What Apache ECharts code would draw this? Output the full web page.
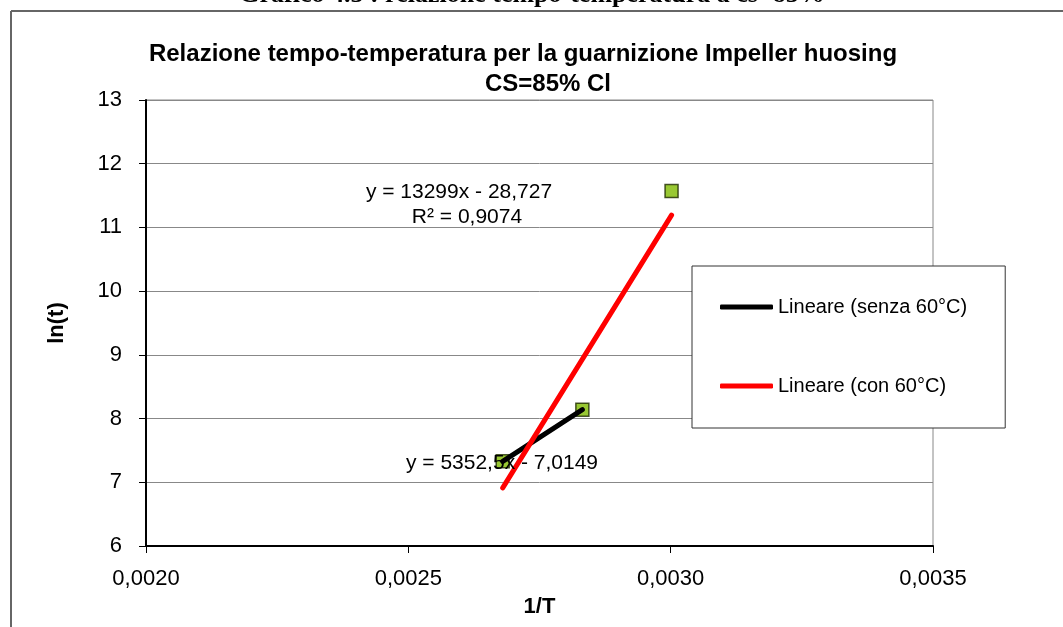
<!DOCTYPE html>
<html>
<head>
<meta charset="utf-8">
<title>Relazione tempo-temperatura</title>
<script src="https://cdn.jsdelivr.net/npm/echarts@6/dist/echarts.min.js"></script>
<style>
  html, body { margin: 0; padding: 0; background: #fff; }
  #chart { width: 1063px; height: 627px; }
</style>
</head>
<body>
<div id="chart"></div>
<script>
// dati: 1/T e ln(t)
var invT = [0.0026799, 0.0028317, 0.0030017];
var lnT = [7.33, 8.14, 11.57];
// rette di tendenza (pendenza, intercetta) e intervallo in x
var fitSenza = { slope: 5352.5, icpt: -7.0149, from: 0.0026799, to: 0.0028317 };
var fitCon = { slope: 13299, icpt: -28.727, from: 0.0026799, to: 0.0030017 };
var xTicks = [0.0020, 0.0025, 0.0030, 0.0035];
var yTicks = [6, 7, 8, 9, 10, 11, 12, 13];

var FONT = "'Liberation Sans', Arial, sans-serif";

function lineOf(f) {
  return [[f.from, f.slope * f.from + f.icpt], [f.to, f.slope * f.to + f.icpt]];
}
function comma(v) { return v.toFixed(4).replace('.', ','); }

var chart = echarts.init(document.getElementById('chart'));

chart.setOption({
  animation: false,
  backgroundColor: '#fff',
  grid: {
    left: 146, right: 130, top: 100, bottom: 81,
    show: true, borderColor: '#888', borderWidth: 1
  },
  legend: {
    data: [
      { name: 'Lineare (senza 60°C)', icon: 'roundRect' },
      { name: 'Lineare (con 60°C)', icon: 'roundRect' }
    ],
    orient: 'vertical',
    left: 692, top: 266,
    padding: [31, 38, 32, 28],
    itemWidth: 53, itemHeight: 5, itemGap: 59,
    backgroundColor: '#fff',
    borderColor: '#333', borderWidth: 1, borderRadius: 0,
    textStyle: { fontFamily: FONT, fontSize: 20, color: '#000', height: 20, lineHeight: 20 }
  },
  xAxis: {
    type: 'value',
    min: xTicks[0], max: xTicks[xTicks.length - 1], interval: 0.0005,
    name: '1/T', nameLocation: 'middle', nameGap: 50,
    nameTextStyle: { fontFamily: FONT, fontSize: 22, fontWeight: 'bold', color: '#000' },
    axisLine: { lineStyle: { color: '#000', width: 2 } },
    axisTick: { show: true, length: 7, lineStyle: { color: '#000' } },
    axisLabel: { fontFamily: FONT, fontSize: 22, color: '#000', margin: 22, formatter: comma },
    splitLine: { show: false }
  },
  yAxis: {
    type: 'value',
    min: yTicks[0], max: yTicks[yTicks.length - 1], interval: 1,
    name: 'ln(t)', nameLocation: 'middle', nameGap: 78, nameMoveOverlap: false,
    nameTextStyle: { fontFamily: FONT, fontSize: 22, fontWeight: 'bold', color: '#000' },
    axisLine: { show: true, lineStyle: { color: '#000', width: 2 } },
    axisTick: { show: true, length: 7, lineStyle: { color: '#000' } },
    axisLabel: { fontFamily: FONT, fontSize: 22, color: '#000', margin: 24 },
    splitLine: { lineStyle: { color: '#888', width: 1 } }
  },
  series: [
    {
      name: 'punti',
      type: 'scatter',
      data: invT.map(function (x, i) { return [x, lnT[i]]; }),
      symbol: 'rect',
      symbolSize: 13,
      itemStyle: { color: '#7fba00', borderColor: '#1e2a00', borderWidth: 1.5 },
      z: 2
    },
    {
      name: 'Lineare (senza 60°C)',
      type: 'line',
      data: lineOf(fitSenza),
      symbol: 'none',
      lineStyle: { color: '#000', width: 5, cap: 'round' },
      itemStyle: { color: '#000' },
      z: 3
    },
    {
      name: 'Lineare (con 60°C)',
      type: 'line',
      data: lineOf(fitCon),
      symbol: 'none',
      lineStyle: { color: '#ff0000', width: 5, cap: 'round' },
      itemStyle: { color: '#ff0000' },
      z: 3
    }
  ],
  graphic: [
    // cornice esterna
    { type: 'line', shape: { x1: 11, y1: 11, x2: 1063, y2: 11 }, style: { stroke: '#666', lineWidth: 2 } },
    { type: 'line', shape: { x1: 11, y1: 11, x2: 11, y2: 627 }, style: { stroke: '#666', lineWidth: 2 } },
    // titolo del documento (tagliato in alto)
    { type: 'text', x: 532, y: 8, style: {
        text: 'Grafico 4.5 : relazione tempo-temperatura a cs=85%',
        font: "bold 26px 'Liberation Serif', 'Times New Roman', serif",
        fill: '#000', align: 'center', verticalAlign: 'bottom' } },
    // titolo del grafico
    { type: 'text', x: 523, y: 54, style: {
        text: 'Relazione tempo-temperatura per la guarnizione Impeller huosing',
        font: 'bold 24px ' + FONT, fill: '#000', align: 'center', verticalAlign: 'middle' } },
    { type: 'text', x: 548, y: 84, style: {
        text: 'CS=85% Cl',
        font: 'bold 24px ' + FONT, fill: '#000', align: 'center', verticalAlign: 'middle' } },
    // equazioni delle rette
    { type: 'text', x: 459, y: 192, z: 10, style: {
        text: 'y = 13299x - 28,727',
        font: '21px ' + FONT, fill: '#000', align: 'center', verticalAlign: 'middle' } },
    { type: 'text', x: 467, y: 217, z: 10, style: {
        text: 'R² = 0,9074',
        font: '21px ' + FONT, fill: '#000', align: 'center', verticalAlign: 'middle' } },
    { type: 'text', x: 502, y: 463, z: 10, style: {
        text: 'y = 5352,5x - 7,0149',
        font: '21px ' + FONT, fill: '#000', align: 'center', verticalAlign: 'middle' } }
  ]
});
</script>
</body>
</html>
